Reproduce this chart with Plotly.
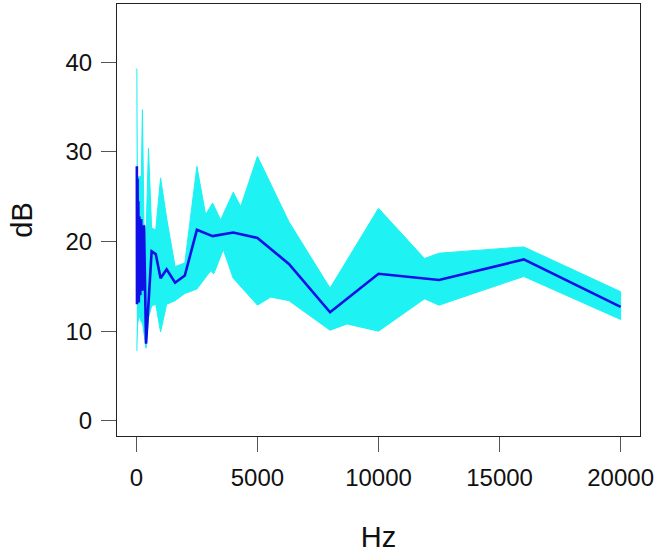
import plotly.graph_objects as go

# third-octave centre frequencies (Hz) and the mean curve (dB)
freq_hz = [20, 25, 31.5, 40, 50, 63, 80, 100, 125, 160, 200, 250, 315, 400, 500,
           630, 800, 1000, 1250, 1600, 2000, 2500, 3150, 4000, 5000, 6300, 8000,
           10000, 12500, 16000, 20000]
mean_db = [28.4, 13.0, 26.5, 14.0, 27.0, 13.5, 24.5, 13.2, 22.8, 14.0, 22.5, 14.5,
           21.8, 8.6, 13.5, 18.9, 18.6, 15.9, 16.9, 15.4, 16.2, 21.3, 20.6, 21.0,
           20.4, 17.5, 12.1, 16.4, 15.7, 18.0, 12.7]

# outline of the cloud of bootstrap curves
upper_hz = [20, 25, 31.5, 40, 63, 100, 160, 200, 250, 315, 400, 500, 630, 800,
            1000, 1250, 1600, 2000, 2500, 2860, 3150, 3480, 4000, 4310, 5000,
            6300, 8000, 10000, 11900, 12500, 16000, 20000]
upper_db = [39.3, 30.0, 27.5, 27.0, 27.3, 27.0, 27.3, 26.5, 34.7, 22.0, 21.0, 30.4,
            21.5, 21.3, 27.1, 22.6, 17.2, 17.6, 28.4, 23.0, 24.3, 22.4, 25.5, 23.9,
            29.5, 22.2, 14.8, 23.7, 18.1, 18.7, 19.4, 14.4]
lower_hz = [20, 25, 31.5, 40, 63, 100, 160, 200, 250, 315, 400, 500, 630, 800,
            1000, 1250, 1600, 2000, 2500, 3060, 3200, 3590, 4000, 5000, 5550,
            6300, 8000, 8700, 10000, 11900, 12500, 16000, 20000]
lower_db = [7.8, 8.5, 9.5, 10.0, 11.0, 11.5, 11.5, 11.0, 11.0, 10.0, 8.1, 11.5,
            12.8, 13.0, 9.9, 13.0, 13.4, 14.2, 14.7, 16.7, 16.4, 19.1, 15.9, 12.9,
            13.8, 13.4, 10.1, 10.8, 10.0, 13.6, 12.9, 16.1, 11.3]

x_ticks = [0, 5000, 10000, 15000, 20000]
x_tick_text = ["0", "5000", "10000", "15000", "20000"]
y_ticks = [0, 10, 20, 30, 40]

fig = go.Figure()
fig.add_trace(go.Scatter(
    x=upper_hz + lower_hz[::-1],
    y=upper_db + lower_db[::-1],
    fill="toself", mode="lines",
    fillcolor="rgb(30,242,242)",
    line=dict(color="rgb(30,242,242)", width=1),
    hoverinfo="skip", showlegend=False,
))
fig.add_trace(go.Scatter(
    x=freq_hz, y=mean_db, mode="lines",
    line=dict(color="rgb(15,15,230)", width=2.6),
    showlegend=False,
))

axis_style = dict(
    showgrid=False, zeroline=False, showline=True, mirror=True,
    linecolor="#222", linewidth=1, ticks="outside", ticklen=15,
    tickcolor="#555", tickwidth=1,
)
fig.update_xaxes(range=[-800, 20800], tickvals=x_ticks, ticktext=x_tick_text,
                 ticklabelstandoff=5, title=dict(text="Hz", standoff=36), **axis_style)
fig.update_yaxes(range=[-1.7, 46.5], tickvals=y_ticks, ticklabelstandoff=4,
                 title=dict(text="dB", standoff=24), **axis_style)
fig.update_layout(
    width=657, height=553,
    margin=dict(l=117, r=17, t=4, b=117),
    paper_bgcolor="white", plot_bgcolor="white",
    font=dict(family="Liberation Sans, Arial", size=24, color="#111"),
)
fig.write_html("out.html", config={"displayModeBar": False},
               post_script="document.body.style.margin='0';")
